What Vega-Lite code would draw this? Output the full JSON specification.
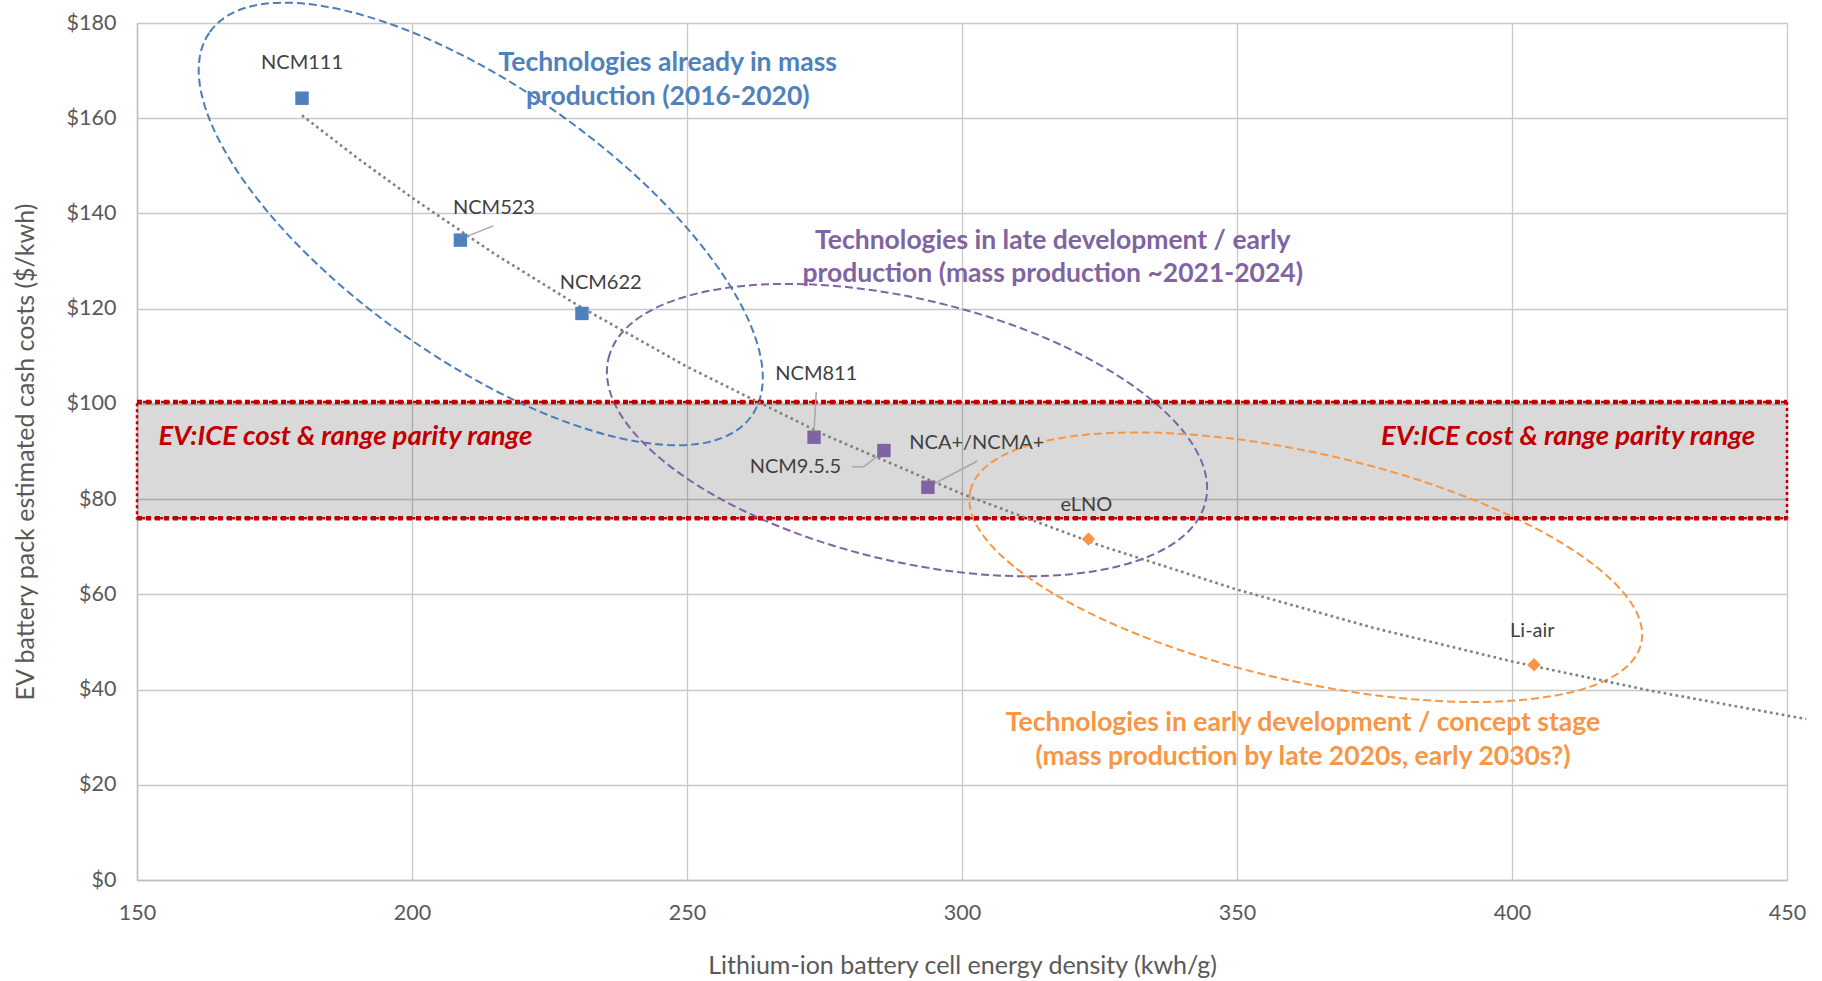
{
  "$schema": "https://vega.github.io/schema/vega-lite/v6.json",
  "width": 1650,
  "height": 857,
  "autosize": {"type": "none"},
  "padding": {"left": 137, "top": 23, "right": 35, "bottom": 101},
  "background": "white",
  "config": {
    "view": {"stroke": null},
    "font": "Lato",
    "axis": {
      "gridColor": "#c8c8c8",
      "gridWidth": 1.3,
      "domainColor": "#c0c0c0",
      "domainWidth": 1.5,
      "ticks": false,
      "tickSize": 0,
      "labelFlush": false,
      "labelOverlap": false,
      "labelFont": "Lato",
      "labelFontSize": 21.5,
      "labelColor": "#595959",
      "titleFont": "Lato",
      "titleFontSize": 25,
      "titleFontWeight": "normal",
      "titleColor": "#595959"
    }
  },
  "datasets": {
    "band": [{"x": 150, "x2": 450, "y": 76, "y2": 100.4}],
    "bandEdges": [{"x": 150, "x2": 450, "y": 100.4}, {"x": 150, "x2": 450, "y": 76}],
    "ellipseBlue": [{"x": 212.5, "y": 137.8}],
    "ellipsePurple": [{"x": 290, "y": 94.5}],
    "ellipseOrange": [{"x": 362.5, "y": 65.7}],
    "trend": [
      {"x": 180, "y": 160.6}, {"x": 190, "y": 151.7}, {"x": 200, "y": 143.3},
      {"x": 215, "y": 131.5}, {"x": 230, "y": 120.8}, {"x": 250, "y": 107.8},
      {"x": 275, "y": 93.5}, {"x": 300, "y": 81.1}, {"x": 325, "y": 70.3},
      {"x": 350, "y": 61.0}, {"x": 375, "y": 52.9}, {"x": 400, "y": 45.9},
      {"x": 425, "y": 39.8}, {"x": 453.5, "y": 33.8}
    ],
    "leaders": [
      {"seg": "NCM523", "o": 0, "x": 214.8, "y": 137.4},
      {"seg": "NCM523", "o": 1, "x": 208.7, "y": 134.6},
      {"seg": "NCM811", "o": 0, "x": 273.5, "y": 102.5},
      {"seg": "NCM811", "o": 1, "x": 273.1, "y": 94.4},
      {"seg": "NCM955", "o": 0, "x": 280.0, "y": 86.8},
      {"seg": "NCM955", "o": 1, "x": 282.1, "y": 86.8},
      {"seg": "NCM955", "o": 2, "x": 285.7, "y": 89.9},
      {"seg": "NCA", "o": 0, "x": 302.8, "y": 88.0},
      {"seg": "NCA", "o": 1, "x": 293.9, "y": 82.6}
    ],
    "points": [
      {"name": "NCM111", "x": 180.0, "y": 164.2, "g": "mass"},
      {"name": "NCM523", "x": 208.8, "y": 134.4, "g": "mass"},
      {"name": "NCM622", "x": 230.9, "y": 119.0, "g": "mass"},
      {"name": "NCM811", "x": 273.1, "y": 93.0, "g": "late"},
      {"name": "NCM9.5.5", "x": 285.8, "y": 90.2, "g": "late"},
      {"name": "NCA+/NCMA+", "x": 293.8, "y": 82.5, "g": "late"},
      {"name": "eLNO", "x": 323.0, "y": 71.6, "g": "early"},
      {"name": "Li-air", "x": 404.0, "y": 45.2, "g": "early"}
    ],
    "labels": [
      {"name": "NCM111", "x": 180.0, "y": 171.5},
      {"name": "NCM523", "x": 214.9, "y": 141.2},
      {"name": "NCM622", "x": 234.3, "y": 125.3},
      {"name": "NCM811", "x": 273.5, "y": 106.3},
      {"name": "NCM9.5.5", "x": 269.7, "y": 86.8},
      {"name": "NCA+/NCMA+", "x": 302.7, "y": 91.8},
      {"name": "eLNO", "x": 322.6, "y": 78.7},
      {"name": "Li-air", "x": 403.7, "y": 52.3}
    ],
    "notes": [
      {"t": "Technologies already in mass\nproduction (2016-2020)", "g": "mass", "x": 246.5, "y": 171.55},
      {"t": "Technologies in late development / early\nproduction (mass production ~2021-2024)", "g": "late", "x": 316.5, "y": 134.25},
      {"t": "Technologies in early development / concept stage\n(mass production by late 2020s, early 2030s?)", "g": "early", "x": 362.0, "y": 32.95}
    ],
    "bandLabels": [
      {"t": "EV:ICE cost & range parity range", "x": 187.9, "y": 93.0},
      {"t": "EV:ICE cost & range parity range", "x": 410.2, "y": 93.0}
    ]
  },
  "encoding": {
    "x": {
      "field": "x",
      "type": "quantitative",
      "scale": {"domain": [150, 450], "nice": false, "zero": false},
      "axis": {
        "values": [150, 200, 250, 300, 350, 400, 450],
        "labelPadding": 22,
        "title": "Lithium-ion battery cell energy density (kwh/g)",
        "titlePadding": 30
      }
    },
    "y": {
      "field": "y",
      "type": "quantitative",
      "scale": {"domain": [0, 180], "nice": false, "zero": true},
      "axis": {
        "values": [0, 20, 40, 60, 80, 100, 120, 140, 160, 180],
        "format": "$.0f",
        "labelPadding": 21,
        "title": "EV battery pack estimated cash costs ($/kwh)",
        "titlePadding": 28
      }
    }
  },
  "layer": [
    {
      "data": {"name": "band"},
      "mark": {"type": "rect", "fill": "#000000", "fillOpacity": 0.15, "stroke": "#c00000", "strokeWidth": 2.5, "strokeDash": [3, 3]},
      "encoding": {"x2": {"field": "x2"}, "y2": {"field": "y2"}}
    },
    {
      "data": {"name": "ellipseBlue"},
      "mark": {
        "type": "point",
        "shape": "M -1 0 C -1 -0.2246 -0.5523 -0.4066 0 -0.4066 C 0.5523 -0.4066 1 -0.2246 1 0 C 1 0.2246 0.5523 0.4066 0 0.4066 C -0.5523 0.4066 -1 0.2246 -1 0 Z",
        "size": 440896,
        "angle": 35.3,
        "filled": false,
        "fill": null,
        "stroke": "#4a7ebb",
        "strokeWidth": 2,
        "strokeDash": [8, 4],
        "opacity": 1
      }
    },
    {
      "data": {"name": "ellipsePurple"},
      "mark": {
        "type": "point",
        "shape": "M -1 0 C -1 -0.2357 -0.5523 -0.4267 0 -0.4267 C 0.5523 -0.4267 1 -0.2357 1 0 C 1 0.2357 0.5523 0.4267 0 0.4267 C -0.5523 0.4267 -1 0.2357 -1 0 Z",
        "size": 376996,
        "angle": 13.5,
        "filled": false,
        "fill": null,
        "stroke": "#8064a2",
        "strokeWidth": 2,
        "strokeDash": [8, 4],
        "opacity": 1
      }
    },
    {
      "data": {"name": "ellipseOrange"},
      "mark": {
        "type": "point",
        "shape": "M -1 0 C -1 -0.1830 -0.5523 -0.3314 0 -0.3314 C 0.5523 -0.3314 1 -0.1830 1 0 C 1 0.1830 0.5523 0.3314 0 0.3314 C -0.5523 0.3314 -1 0.1830 -1 0 Z",
        "size": 473344,
        "angle": 12.8,
        "filled": false,
        "fill": null,
        "stroke": "#f79646",
        "strokeWidth": 2,
        "strokeDash": [8, 4],
        "opacity": 1
      }
    },
    {
      "data": {"name": "bandEdges"},
      "mark": {"type": "rule", "stroke": "#c00000", "strokeWidth": 4.5, "strokeDash": [5, 4]},
      "encoding": {"x2": {"field": "x2"}}
    },
    {
      "data": {"name": "trend"},
      "mark": {"type": "line", "stroke": "#7f7f7f", "strokeWidth": 2.6, "strokeDash": [2.6, 3.4], "clip": false},
      "encoding": {"order": {"field": "x", "type": "quantitative"}}
    },
    {
      "data": {"name": "leaders"},
      "mark": {"type": "line", "stroke": "#a6a6a6", "strokeWidth": 1.5},
      "encoding": {
        "detail": {"field": "seg", "type": "nominal"},
        "order": {"field": "o", "type": "quantitative"}
      }
    },
    {
      "data": {"name": "points"},
      "mark": {"type": "point", "filled": true, "opacity": 1, "size": 180},
      "encoding": {
        "color": {"field": "g", "type": "nominal", "scale": {"domain": ["mass", "late", "early"], "range": ["#4f81bd", "#8064a2", "#f79646"]}, "legend": null},
        "shape": {"field": "g", "type": "nominal", "scale": {"domain": ["mass", "late", "early"], "range": ["square", "square", "diamond"]}, "legend": null}
      }
    },
    {
      "data": {"name": "labels"},
      "mark": {"type": "text", "font": "Lato", "fontSize": 20, "color": "#404040", "align": "center", "baseline": "middle"},
      "encoding": {"text": {"field": "name", "type": "nominal"}}
    },
    {
      "data": {"name": "notes"},
      "mark": {"type": "text", "font": "Lato", "fontSize": 26.5, "fontWeight": "bold", "align": "center", "baseline": "middle", "lineBreak": "\n", "lineHeight": 33.5},
      "encoding": {
        "text": {"field": "t", "type": "nominal"},
        "color": {"field": "g", "type": "nominal", "scale": {"domain": ["mass", "late", "early"], "range": ["#4f81bd", "#8064a2", "#f79646"]}, "legend": null}
      }
    },
    {
      "data": {"name": "bandLabels"},
      "mark": {"type": "text", "font": "Lato", "fontSize": 27.5, "fontWeight": "bold", "fontStyle": "italic", "color": "#c00000", "align": "center", "baseline": "middle"},
      "encoding": {"text": {"field": "t", "type": "nominal"}}
    }
  ]
}
